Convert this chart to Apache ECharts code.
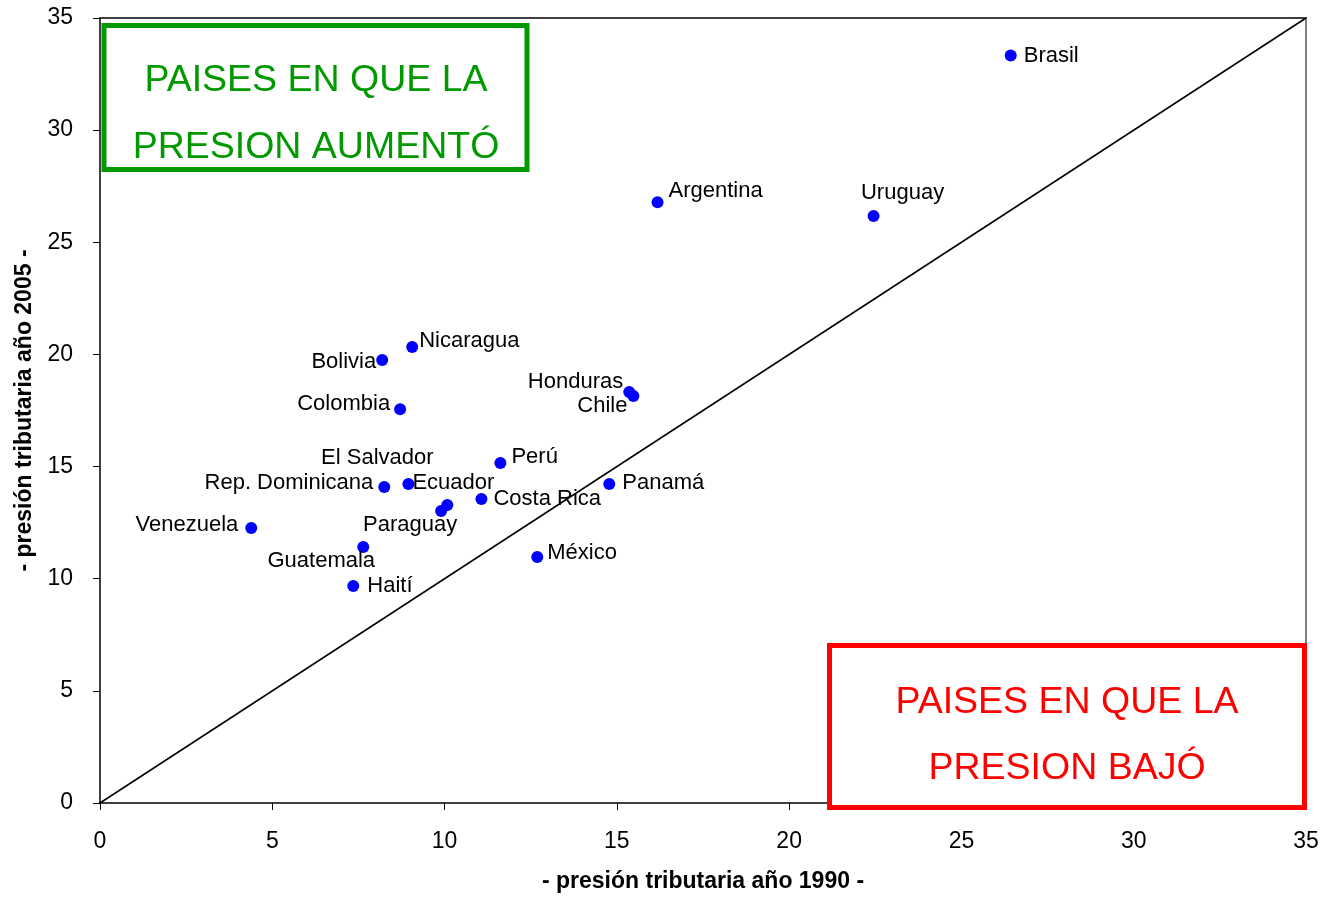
<!DOCTYPE html>
<html>
<head>
<meta charset="utf-8">
<script src="https://cdn.jsdelivr.net/npm/echarts@6/dist/echarts.min.js"></script>
<style>
html,body{margin:0;padding:0;background:#fff;}
#chart{width:1321px;height:897px;}
</style>
</head>
<body>
<div id="chart"></div>
<script>
// ---- data ----
var countries = ['Brasil','Argentina','Uruguay','Nicaragua','Bolivia','Colombia','Honduras','Chile','Perú','Rep. Dominicana','Ecuador','El Salvador','Paraguay','Costa Rica','Panamá','Venezuela','Guatemala','Haití','México'];
var pres1990 = [26.43,16.18,22.45,9.06,8.19,8.71,15.36,15.48,11.62,8.25,8.95,10.08,9.90,11.07,14.78,4.39,7.64,7.35,12.69];
var pres2005 = [33.33,26.79,26.17,20.33,19.75,17.56,18.33,18.15,15.16,14.09,14.22,13.29,13.02,13.55,14.22,12.26,11.41,9.67,10.97];
var diagonal = [[0,0],[35,35]];

// label placement (style, not data): [dx, dy, align]
var labelPlace = [
  [13,0,'left'],[11,-11,'left'],[29,-23,'center'],[7,-6,'left'],[-6,2,'right'],
  [-10,-5,'right'],[-6,-10,'right'],[-6,10,'right'],[11,-6,'left'],[-11,-4,'right'],
  [4,-1,'left'],[-70,-47,'center'],[-31,14,'center'],[12,0,'left'],[13,-1,'left'],
  [-13,-3,'right'],[-42,14,'center'],[14,0,'left'],[10,-4,'left']
];

var FONT = '"Liberation Sans", Arial, sans-serif';

var points = countries.map(function(n,i){
  var p = labelPlace[i];
  return {
    name: n,
    value: [pres1990[i], pres2005[i]],
    label: {
      show: true, position: 'inside', offset: [p[0], p[1]],
      align: p[2], verticalAlign: 'middle',
      formatter: '{b}', color: '#000', fontSize: 22, fontFamily: FONT,
      textBorderWidth: 0, opacity: 1
    }
  };
});

var chart = echarts.init(document.getElementById('chart'), null, {renderer:'canvas'});
var axisCommon = {
  type: 'value', min: 0, max: 35, interval: 5,
  axisLine: {show: true, lineStyle: {color: '#000', width: 1.5}},
  axisTick: {show: true, inside: false, length: 7, lineStyle: {color: '#000', width: 1}},
  splitLine: {show: false}
};
chart.setOption({
  animation: false,
  backgroundColor: '#fff',
  grid: {left: 100, right: 15, top: 18, bottom: 94, containLabel: false, outerBoundsMode: 'none'},
  xAxis: [
    Object.assign({}, axisCommon, {
      position: 'bottom',
      axisLabel: {color: '#000', fontSize: 23, fontFamily: FONT, margin: 27},
      name: '- presión tributaria año 1990 -', nameLocation: 'middle', nameGap: 67,
      nameTextStyle: {color: '#000', fontSize: 23, fontWeight: 'bold', fontFamily: FONT}
    }),
    {type: 'value', min: 0, max: 35, position: 'top',
     axisLine: {show: true, onZero: false, lineStyle: {color: '#000', width: 1.5}},
     axisTick: {show: false}, axisLabel: {show: false}, splitLine: {show: false}}
  ],
  yAxis: [
    Object.assign({}, axisCommon, {
      position: 'left',
      axisLabel: {color: '#000', fontSize: 23, fontFamily: FONT, margin: 27},
      name: '- presión tributaria año 2005 -', nameLocation: 'middle', nameGap: 58,
      nameTextStyle: {color: '#000', fontSize: 23, fontWeight: 'bold', fontFamily: FONT}
    }),
    {type: 'value', min: 0, max: 35, position: 'right',
     axisLine: {show: true, onZero: false, lineStyle: {color: '#808080', width: 2}},
     axisTick: {show: false}, axisLabel: {show: false}, splitLine: {show: false}}
  ],
  series: [
    {
      type: 'line', data: diagonal, symbol: 'none', silent: true,
      lineStyle: {color: '#000', width: 1.5}, z: 1
    },
    {
      type: 'scatter', data: points, symbol: 'circle', symbolSize: 12,
      itemStyle: {color: '#0000FF', opacity: 1}, z: 3
    }
  ],
  graphic: [
    {type: 'rect', shape: {x: 104, y: 25.5, width: 423, height: 144}, z: 10,
     style: {fill: '#fff', stroke: '#009900', lineWidth: 5}},
    {type: 'text', x: 316, y: 81, z: 11,
     style: {text: 'PAISES EN QUE LA', fill: '#009900', font: '37.5px ' + FONT, textAlign: 'center', textVerticalAlign: 'middle'}},
    {type: 'text', x: 316, y: 148, z: 11,
     style: {text: 'PRESION AUMENTÓ', fill: '#009900', font: '37.5px ' + FONT, textAlign: 'center', textVerticalAlign: 'middle'}},
    {type: 'rect', shape: {x: 829.5, y: 645.5, width: 475, height: 162}, z: 10,
     style: {fill: '#fff', stroke: '#FF0000', lineWidth: 5}},
    {type: 'text', x: 1067, y: 703, z: 11,
     style: {text: 'PAISES EN QUE LA', fill: '#FF0000', font: '37.5px ' + FONT, textAlign: 'center', textVerticalAlign: 'middle'}},
    {type: 'text', x: 1067, y: 769, z: 11,
     style: {text: 'PRESION BAJÓ', fill: '#FF0000', font: '37.5px ' + FONT, textAlign: 'center', textVerticalAlign: 'middle'}}
  ]
});
</script>
</body>
</html>
